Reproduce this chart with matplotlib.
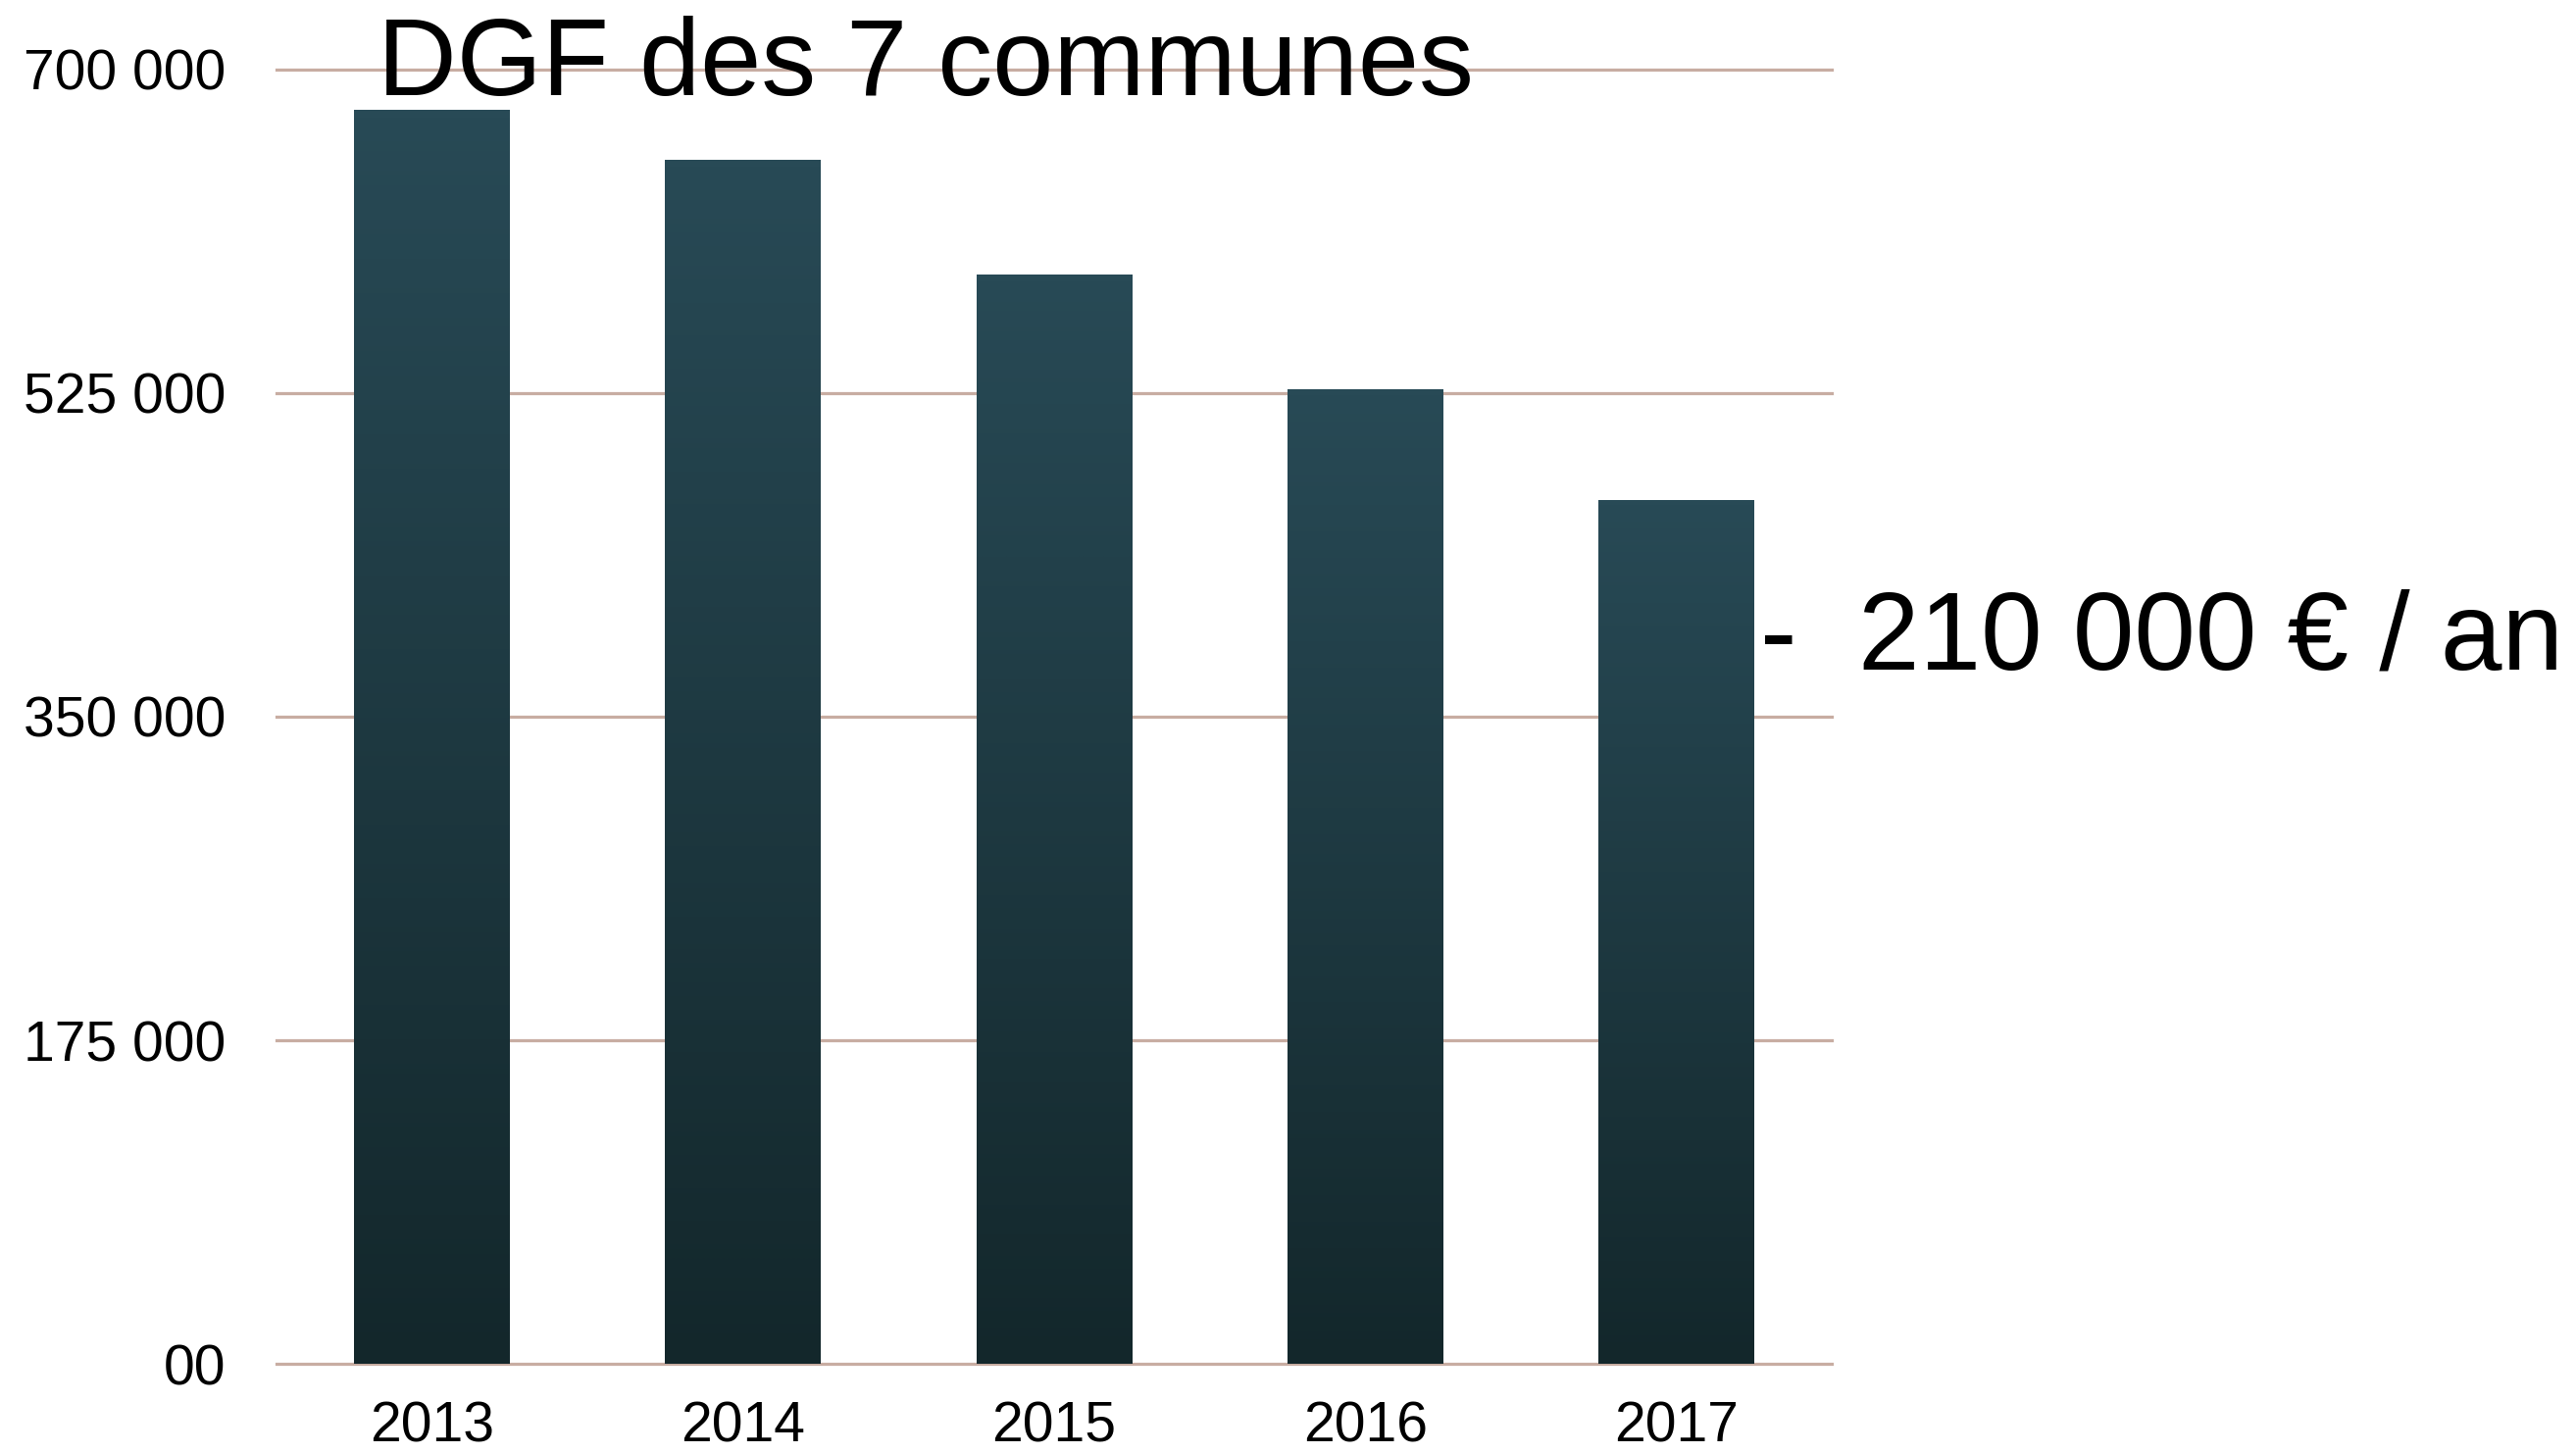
import numpy as np
import matplotlib
matplotlib.use('Agg')
import matplotlib.pyplot as plt
from matplotlib.colors import LinearSegmentedColormap

plt.rcParams['font.family'] = ['Liberation Sans', 'DejaVu Sans']

# data
years = ['2013', '2014', '2015', '2016', '2017']
dgf = [678000, 651000, 589000, 527000, 467000]
yticks = [0, 175000, 350000, 525000, 700000]
ytick_labels = ['00', '175 000', '350 000', '525 000', '700 000']
title = 'DGF des 7 communes'
note = '-  210 000 € / an'

grid_color = '#c8ada2'
bar_cmap = LinearSegmentedColormap.from_list('bar', ['#13272b', '#284a56'])

fig = plt.figure(figsize=(26.27, 14.82), dpi=100)
ax = fig.add_axes([0.1073, 0.0614, 0.6038, 0.8907])

x = np.arange(len(years))
bars = ax.bar(x, dgf, width=0.5, color='none', edgecolor='none', zorder=2)

# vertical gradient inside each bar
grad = np.linspace(0, 1, 256).reshape(-1, 1)
for b in bars:
    x0, w, h = b.get_x(), b.get_width(), b.get_height()
    im = ax.imshow(grad, extent=[x0, x0 + w, 0, h], origin='lower',
                   aspect='auto', cmap=bar_cmap, zorder=2, interpolation='bilinear')
    im.set_clip_path(b)

ax.set_xlim(-0.5, len(years) - 0.5)
ax.set_ylim(0, 700000)

for yv in yticks:
    ax.axhline(yv, color=grid_color, lw=2.3, zorder=1, clip_on=False)

ax.set_xticks(x)
ax.set_xticklabels(years, fontsize=41)
ax.set_yticks(yticks)
ax.set_yticklabels(ytick_labels, fontsize=41)
ax.tick_params(axis='both', length=0)
ax.tick_params(axis='x', pad=27)
ax.tick_params(axis='y', pad=37)
for s in ax.spines.values():
    s.set_visible(False)

fig.text(385 / 2627, 1 - 97 / 1482, title, fontsize=80.5, va='baseline', ha='left', zorder=5)
fig.text(1795 / 2627, 1 - 682 / 1482, note, fontsize=81, va='baseline', ha='left')

fig.savefig('out.png', dpi=100, facecolor='white')
